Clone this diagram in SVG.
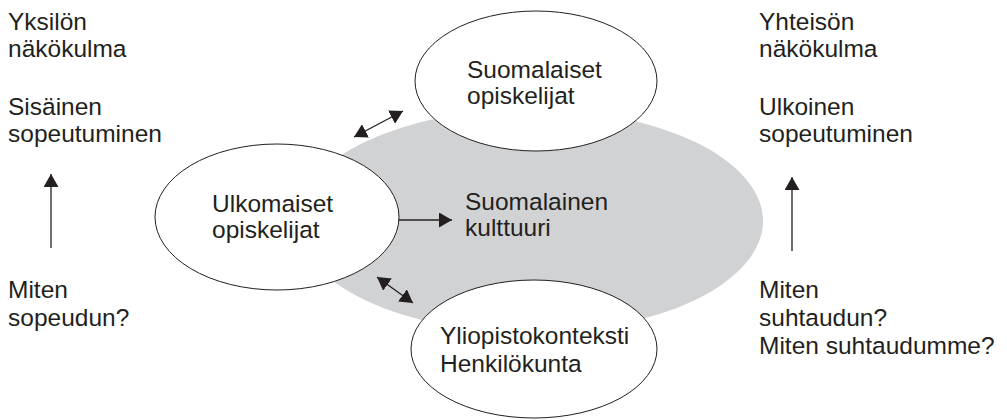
<svg xmlns="http://www.w3.org/2000/svg" width="1007" height="420" viewBox="0 0 1007 420">
<style>
text{font-family:"Liberation Sans",Arial,sans-serif;font-size:24.5px;fill:#231f20}
.node{fill:#fff;stroke:#231f20;stroke-width:1}
.ln{stroke:#231f20;stroke-width:1.3;fill:none}
</style>
<defs>
<marker id="ah" viewBox="0 0 13 15" refX="13" refY="7.5" markerWidth="13" markerHeight="15" markerUnits="userSpaceOnUse" orient="auto-start-reverse">
<path d="M0,0 L13,7.5 L0,15 z" fill="#231f20"/>
</marker>
</defs>
<rect width="1007" height="420" fill="#fff"/>
<g id="culture">
<ellipse cx="530" cy="221" rx="233" ry="112" fill="#d1d2d4"/>
<text x="465" y="210">Suomalainen</text>
<text x="465" y="236">kulttuuri</text>
</g>
<g id="suomalaiset">
<ellipse class="node" cx="536" cy="81" rx="121" ry="70"/>
<text x="467" y="78">Suomalaiset</text>
<text x="467" y="104">opiskelijat</text>
</g>
<g id="ulkomaiset">
<ellipse class="node" cx="277" cy="217" rx="122" ry="73"/>
<text x="212" y="212">Ulkomaiset</text>
<text x="212" y="238">opiskelijat</text>
</g>
<g id="yliopisto">
<ellipse class="node" cx="534" cy="349" rx="123" ry="69"/>
<text x="440" y="344">Yliopistokonteksti</text>
<text x="440" y="372">Henkilökunta</text>
</g>
<g id="left-text">
<text x="8" y="30">Yksilön</text>
<text x="8" y="57">näkökulma</text>
<text x="8" y="115">Sisäinen</text>
<text x="8" y="142">sopeutuminen</text>
<text x="8" y="298">Miten</text>
<text x="8" y="326">sopeudun?</text>
</g>
<g id="right-text">
<text x="759" y="30">Yhteisön</text>
<text x="759" y="57">näkökulma</text>
<text x="759" y="115">Ulkoinen</text>
<text x="759" y="142">sopeutuminen</text>
<text x="759" y="298">Miten</text>
<text x="759" y="326">suhtaudun?</text>
<text x="759" y="354">Miten suhtaudumme?</text>
</g>
<g id="connectors">
<line class="ln" x1="51" y1="248" x2="51" y2="174" marker-end="url(#ah)"/>
<line class="ln" x1="792" y1="251" x2="792" y2="177" marker-end="url(#ah)"/>
<line class="ln" x1="354" y1="137" x2="403" y2="111" marker-start="url(#ah)" marker-end="url(#ah)"/>
<line class="ln" x1="377" y1="277" x2="413" y2="303" marker-start="url(#ah)" marker-end="url(#ah)"/>
<line class="ln" x1="399" y1="220" x2="452" y2="220" marker-end="url(#ah)"/>
</g>
</svg>
